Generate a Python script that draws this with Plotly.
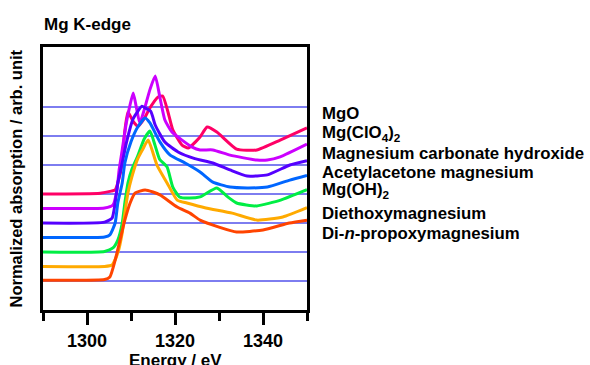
import plotly.graph_objects as go

# ---- data (normalized absorption, pre-edge = 0) ----
names = ["MgO", "Mg(ClO<sub>4</sub>)<sub>2</sub>", "Magnesium carbonate hydroxide",
         "Acetylacetone magnesium", "Mg(OH)<sub>2</sub>", "Diethoxymagnesium",
         "Di-<i>n</i>-propoxymagnesium"]
offsets = [3.0, 2.5, 2.0, 1.5, 1.0, 0.5, 0.0]
colors = ["#ff0066", "#cc00ff", "#5500ff", "#0066ff", "#00ee44", "#ffaa00", "#ff4400"]

e_mgo = [1290, 1303, 1305.5, 1306.4, 1307, 1308, 1308.2, 1308.7, 1309.3, 1310.5, 1311.6, 1313,
         1314.3, 1316.1, 1317.2, 1318.4, 1319.5, 1321.6, 1323, 1325.7, 1327.3, 1329.5, 1334,
         1338.6, 1343.9, 1350]
mgo = [0, 0.03, 0.1, 0.14, 0.38, 1.07, 1.52, 2.3, 2.83, 2.5, 2.34, 2.6, 2.97, 3.34, 3.38, 2.83,
       2.21, 1.69, 1.59, 1.97, 2.31, 2.14, 1.55, 1.52, 1.86, 2.28]

e_clo4 = [1290, 1304, 1305.9, 1306.8, 1307.3, 1308, 1309, 1310.5, 1311.2, 1312, 1313, 1314.3,
          1315.5, 1316.6, 1317.7, 1319.3, 1321.6, 1323.9, 1325.7, 1328.6, 1332.5, 1338.6, 1341,
          1343.9, 1350]
clo4 = [0, 0.02, 0.12, 0.64, 1.33, 2.02, 3.0, 3.98, 3.5, 2.95, 3.4, 4.1, 4.57, 3.81, 3.05, 2.64,
        2.36, 2.12, 2.02, 2.02, 1.84, 1.67, 1.67, 1.78, 2.22]

e_carb = [1290, 1304, 1305.7, 1306.4, 1307, 1308, 1309, 1310.5, 1312.5, 1313.2, 1314.5, 1315.5,
          1317.7, 1320.7, 1324.5, 1328.6, 1332.5, 1336.4, 1341, 1346.1, 1350]
carb = [0, 0.03, 0.17, 0.69, 1.38, 2.07, 2.8, 3.6, 4.03, 3.97, 3.85, 3.38, 2.79, 2.45, 2.22,
        2.07, 1.83, 1.62, 1.66, 2.0, 2.15]

e_acac = [1290, 1304, 1305.2, 1306.4, 1307, 1308, 1308.6, 1310, 1311.5, 1313.2, 1314.3, 1316.6,
          1318.9, 1322.3, 1325.7, 1328.6, 1332.5, 1336.4, 1341, 1346.1, 1350]
acac = [0, 0.02, 0.09, 0.5, 1.19, 1.88, 2.57, 3.3, 3.8, 4.12, 3.95, 3.29, 2.84, 2.57, 2.26,
        1.91, 1.74, 1.71, 1.74, 1.98, 2.14]

e_oh = [1290, 1304, 1305.9, 1307, 1308, 1308.6, 1309.3, 1310.2, 1311.5, 1313, 1314.3, 1315.5,
        1316.5, 1318.2, 1319.5, 1321, 1323, 1325.7, 1329.5, 1332, 1334, 1338.6, 1344, 1350]
oh = [0, 0.02, 0.14, 0.41, 0.99, 1.69, 2.38, 2.85, 3.3, 3.9, 4.17, 3.66, 3.2, 2.93, 2.24, 1.9,
      1.86, 1.9, 2.21, 1.9, 1.69, 1.59, 1.79, 2.15]

e_etho = [1290, 1304, 1305.7, 1307, 1308, 1308.6, 1309.3, 1310.2, 1311.4, 1312.7, 1313.9, 1315.9,
          1318.2, 1320.5, 1322.7, 1327, 1333, 1338.6, 1344.5, 1350]
etho = [0, 0.0, 0.05, 0.47, 1.16, 1.84, 2.53, 3.09, 3.67, 4.05, 4.36, 3.5, 2.88, 2.29, 2.19,
        2.02, 1.84, 1.6, 1.71, 2.03]

e_prop = [1290, 1304, 1305.2, 1306.4, 1307.5, 1308.6, 1309.8, 1310.9, 1313.2, 1315, 1316.6,
          1320.5, 1323.4, 1325.7, 1330, 1334, 1340, 1346, 1350]
prop = [0.03, 0.05, 0.14, 0.72, 1.41, 2.1, 2.69, 3.03, 3.14, 3.07, 2.97, 2.55, 2.34, 2.1, 1.86,
        1.69, 1.76, 2.0, 2.1]

energies = [e_mgo, e_clo4, e_carb, e_acac, e_oh, e_etho, e_prop]
spectra = [mgo, clo4, carb, acac, oh, etho, prop]
label_y_px = [113, 133, 153, 172, 190, 213, 233]

x_ticks = [1300, 1320, 1340]
x_minor = [1290, 1310, 1330, 1350]
grid_vals = [0, 1, 2, 3, 4, 5, 6]

W, H = 590, 365
L, R, T, B = 43, 283, 47, 55
pw, ph = W - L - R, H - T - B
FONT = "Liberation Sans, Arial, sans-serif"

fig = go.Figure()
for e, s, off, c, n in zip(energies, spectra, offsets, colors, names):
    fig.add_trace(go.Scatter(x=e, y=[v + off for v in s], mode="lines", name=n,
                             line=dict(color=c, width=3, shape="spline", smoothing=0.5),
                             showlegend=False))

ann = []
for n, ypx in zip(names, label_y_px):
    ann.append(dict(text=n, xref="paper", yref="paper", x=(320 - L) / pw, y=(H - B - ypx) / ph,
                    xanchor="left", yanchor="middle", showarrow=False,
                    font=dict(family=FONT, size=16.8, color="black", weight="bold")))
ann.append(dict(text="Mg K-edge", xref="paper", yref="paper", x=-0.005, y=(H - B - 24) / ph,
                xanchor="left", yanchor="middle", showarrow=False,
                font=dict(family=FONT, size=17, color="black", weight="bold")))
ann.append(dict(text="Normalized absorption / arb. unit", xref="paper", yref="paper",
                x=(15 - L) / pw, y=0.5, xanchor="center", yanchor="middle", textangle=-90,
                showarrow=False, font=dict(family=FONT, size=16.5, color="black", weight="bold")))
ann.append(dict(text="Energy / eV", xref="paper", yref="paper", x=0.5, y=(H - B - 360) / ph,
                xanchor="center", yanchor="middle", showarrow=False,
                font=dict(family=FONT, size=17, color="black", weight="bold")))

fig.update_layout(
    width=W, height=H, margin=dict(l=L, r=R, t=T, b=B),
    paper_bgcolor="white", plot_bgcolor="white",
    annotations=ann,
    xaxis=dict(range=[1290, 1350], showline=True, linecolor="black", linewidth=3, mirror=True,
               tickvals=x_ticks, ticks="outside", ticklen=12, tickwidth=3, tickcolor="black",
               showgrid=False, zeroline=False,
               tickfont=dict(family=FONT, size=18, color="black", weight="bold"),
               minor=dict(tickvals=x_minor, ticks="outside", ticklen=8, tickwidth=3,
                          tickcolor="black", showgrid=False)),
    yaxis=dict(range=[-1.0, 8.07], showline=True, linecolor="black", linewidth=3, mirror=True,
               tickvals=grid_vals, ticks="", showticklabels=False, showgrid=True,
               gridcolor="rgb(125,125,240)", gridwidth=1.5, zeroline=False),
)
fig.write_html("out.html", config={"displayModeBar": False},
               post_script="document.body.style.margin='0';document.body.style.overflow='hidden';")
